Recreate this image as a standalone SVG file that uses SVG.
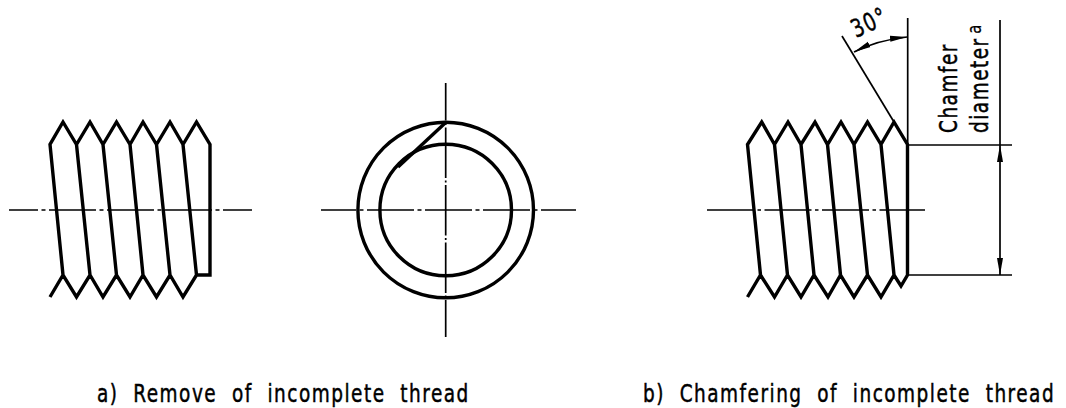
<svg xmlns="http://www.w3.org/2000/svg" width="1066" height="408" viewBox="0 0 1066 408">
<defs>
<style>
.t{fill:none;stroke:#000;stroke-width:3.4;stroke-linejoin:miter;stroke-linecap:butt}
.n{fill:none;stroke:#000;stroke-width:1.7}
.c{fill:none;stroke:#000;stroke-width:1.7}
text{font-family:"DejaVu Sans","Liberation Sans",sans-serif;fill:#000;stroke:#000;stroke-width:.5;font-size:25px;word-spacing:10px;letter-spacing:2px}
</style>
<marker id="ah" markerUnits="userSpaceOnUse" markerWidth="18" markerHeight="8" refX="17" refY="4" orient="auto-start-reverse"><path d="M0 1L17 4L0 7Z" fill="#000"/></marker>
</defs>
<rect width="1066" height="408" fill="#fff"/>
<g id="view-a">
<path class="t" d="M50 297L63 275L76.500 297L90 275L103 297L116.500 275L130 297L143 275L156.500 297L170 275L183 297L196.500 275H210V144.500L196.500 122L183 144.500L170 122L156.500 144.500L143 122L130 144.500L116.500 122L103 144.500L90 122L76.500 144.500L63 122L50 144.500L63 275M76.500 144.500L90 275M103 144.500L116.500 275M130 144.500L143 275M156.500 144.500L170 275M183 144.500L196.500 275"/>
<line class="c" x1="9" y1="210" x2="252" y2="210" stroke-dasharray="47 3.500 4 3.500" stroke-dashoffset="18"/>
</g>
<g id="view-end">
<circle class="t" cx="445.700" cy="210" r="87.800"/>
<circle class="t" cx="445.700" cy="210" r="65.800"/>
<line class="t" x1="445.700" y1="122.500" x2="398" y2="167"/>
<line class="c" x1="321" y1="210" x2="576" y2="210" stroke-dasharray="47 3.500 4 3.500" stroke-dashoffset="12"/>
<line class="c" x1="445.700" y1="83" x2="445.700" y2="337" stroke-dasharray="50.500 2.500 2 2.500" stroke-dashoffset="13"/>
</g>
<g id="view-b">
<path class="t" d="M747.500 297L760.500 275L774.500 297L787.500 275L801 297L814 275L828 297L840.500 275L854 297L867.500 275L881 297L894 275L901 286L907.500 275V144.500L894 122L881 144.500L867.500 122L854 144.500L841 122L827.500 144.500L815 122L801 144.500L788 122L774.500 144.500L761.700 122L747.500 144.500L760.500 275M774.500 144.500L787.500 275M801 144.500L814 275M827.500 144.500L840.500 275M854 144.500L867.500 275M881 144.500L894 275"/>
<line class="c" x1="707" y1="210" x2="925" y2="210" stroke-dasharray="47 3.500 3.500 3.500"/>
</g>
<g id="connectors">
<line class="n" x1="842" y1="36" x2="894" y2="122"/>
<line class="n" x1="907.700" y1="18" x2="907.700" y2="145"/>
<line class="n" x1="908" y1="145" x2="1012" y2="145"/>
<line class="n" x1="908" y1="275" x2="1012" y2="275"/>
<line class="n" x1="1000" y1="20" x2="1000" y2="145"/>
<line class="n" x1="1000" y1="145" x2="1000" y2="275" marker-start="url(#ah)" marker-end="url(#ah)"/>
<path class="n" d="M854 52Q878 40 907 37" marker-start="url(#ah)" marker-end="url(#ah)"/>
</g>
<g id="labels">
<text transform="translate(856 38) rotate(-25) scale(.74 1)">30°</text>
<text transform="translate(957 133) rotate(-90) scale(.74 1)">Chamfer</text>
<text transform="translate(988 133) rotate(-90) scale(.74 1)" letter-spacing="1">diameter<tspan font-size="20" stroke-width=".2" dy="-7" dx="5">a</tspan></text>
<text transform="translate(97 402) scale(.74 1)">a) Remove of incomplete thread</text>
<text transform="translate(643 402) scale(.74 1)">b) Chamfering of incomplete thread</text>
</g>
</svg>
